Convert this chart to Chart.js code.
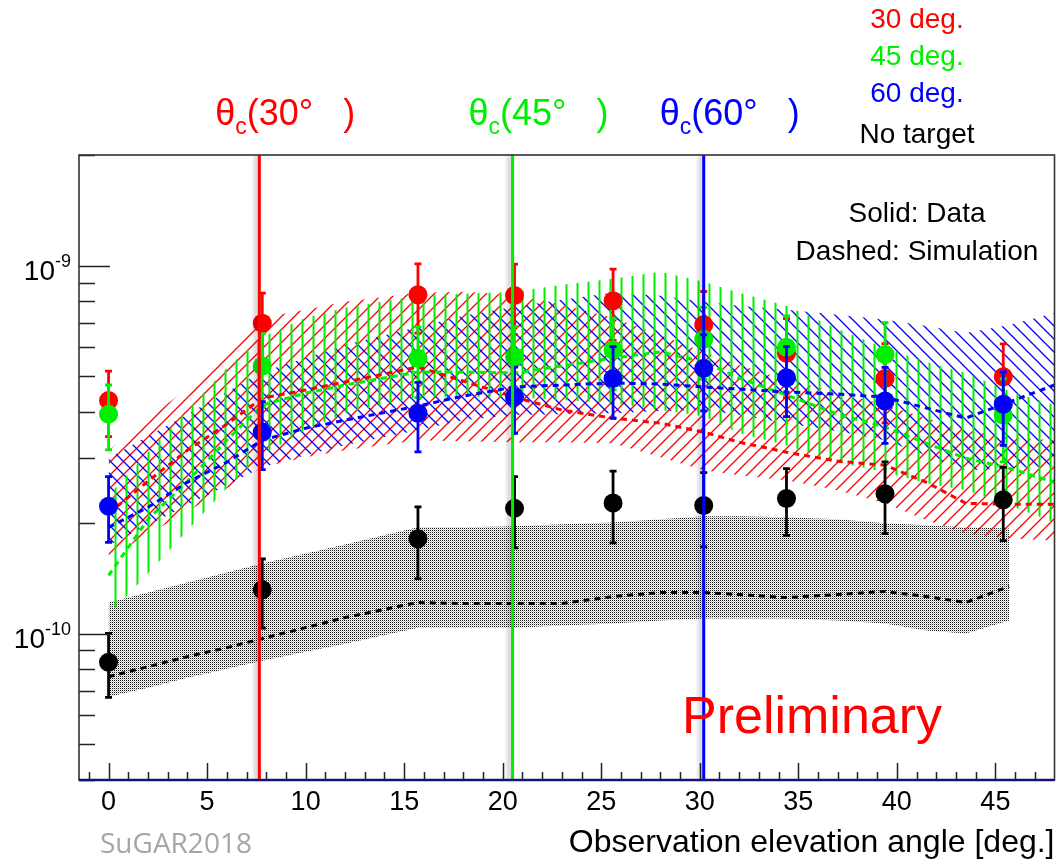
<!DOCTYPE html>
<html><head><meta charset="utf-8">
<script src="https://cdn.jsdelivr.net/npm/chart.js@4.4.1/dist/chart.umd.min.js"></script>
<style>html,body{margin:0;padding:0;background:#fff;overflow:hidden}</style>
</head><body>
<canvas id="c" width="1064" height="859" style="display:block;width:1064px;height:859px"></canvas>
<script>
// ---------- data points (measured) ----------
const dataX = [0, 7.8, 15.7, 20.6, 25.6, 30.2, 34.4, 39.4, 45.4];
const red30 = [4.30e-10, 6.98e-10, 8.34e-10, 8.30e-10, 8.03e-10, 6.91e-10, 5.78e-10, 4.94e-10, 4.99e-10];
const red30Err = [0.87e-10, 1.45e-10, 1.78e-10, 1.80e-10, 1.76e-10, 1.60e-10, 1.40e-10, 1.20e-10, 1.14e-10];
const green45 = [3.95e-10, 5.34e-10, 5.60e-10, 5.66e-10, 5.90e-10, 6.31e-10, 6.00e-10, 5.74e-10, 3.93e-10];
const green45Err = [0.79e-10, 1.20e-10, 1.22e-10, 1.17e-10, 1.30e-10, 1.40e-10, 1.31e-10, 1.26e-10, 1.00e-10];
const blue60 = [2.22e-10, 3.53e-10, 3.97e-10, 4.40e-10, 4.94e-10, 5.26e-10, 4.96e-10, 4.29e-10, 4.20e-10];
const blue60Err = [0.45e-10, 0.74e-10, 0.85e-10, 0.90e-10, 1.09e-10, 1.23e-10, 1.07e-10, 1.00e-10, 0.95e-10];
const noTarget = [0.836e-10, 1.315e-10, 1.81e-10, 2.19e-10, 2.265e-10, 2.23e-10, 2.33e-10, 2.40e-10, 2.31e-10];
const noTargetErr = [0.165e-10, 0.28e-10, 0.40e-10, 0.48e-10, 0.50e-10, 0.51e-10, 0.48e-10, 0.53e-10, 0.52e-10];

// ---------- simulation curves and bands ----------
const simX = [0, 2, 4, 6, 7.8, 10, 12, 15.7, 18, 20.6, 23, 25.6, 28, 30.2, 32, 34.4, 37, 39.4, 41.5, 43.5, 45.7, 48];
const redSim   = [2.123e-10, 2.595e-10, 3.151e-10, 3.710e-10, 4.368e-10, 4.593e-10, 4.830e-10, 5.306e-10, 4.860e-10, 4.395e-10, 4.052e-10, 3.853e-10, 3.733e-10, 3.528e-10, 3.314e-10, 3.112e-10, 2.941e-10, 2.870e-10, 2.578e-10, 2.261e-10, 2.247e-10, 2.247e-10];
const redSimUp = [3.151e-10, 3.828e-10, 4.651e-10, 5.903e-10, 7.216e-10, 7.587e-10, 7.977e-10, 8.442e-10, 8.495e-10, 8.336e-10, 7.828e-10, 7.216e-10, 6.486e-10, 5.830e-10, 5.373e-10, 4.891e-10, 4.536e-10, 4.181e-10, 3.853e-10, 3.573e-10, 3.419e-10, 3.356e-10];
const redSimLo = [1.611e-10, 1.861e-10, 2.150e-10, 2.484e-10, 2.834e-10, 3.016e-10, 3.151e-10, 3.356e-10, 3.335e-10, 3.314e-10, 3.314e-10, 3.293e-10, 3.016e-10, 2.781e-10, 2.695e-10, 2.611e-10, 2.453e-10, 2.261e-10, 2.032e-10, 1.873e-10, 1.815e-10, 1.792e-10];
const greenSim   = [1.439e-10, 2.045e-10, 2.595e-10, 3.356e-10, 4.181e-10, 4.507e-10, 4.740e-10, 5.142e-10, 5.142e-10, 5.110e-10, 5.340e-10, 5.615e-10, 5.830e-10, 5.476e-10, 4.952e-10, 4.451e-10, 3.950e-10, 3.641e-10, 3.293e-10, 2.997e-10, 2.816e-10, 2.578e-10];
const greenSimUp = [2.377e-10, 3.112e-10, 4.052e-10, 5.273e-10, 6.405e-10, 7.216e-10, 7.682e-10, 8.284e-10, 8.389e-10, 8.495e-10, 8.876e-10, 9.217e-10, 9.630e-10, 9.045e-10, 8.442e-10, 7.780e-10, 6.735e-10, 5.978e-10, 5.476e-10, 5.110e-10, 4.564e-10, 4.181e-10];
const greenSimLo = [1.120e-10, 1.457e-10, 1.908e-10, 2.484e-10, 3.055e-10, 3.573e-10, 3.975e-10, 4.395e-10, 4.395e-10, 4.395e-10, 4.313e-10, 4.233e-10, 4.052e-10, 3.901e-10, 3.506e-10, 3.252e-10, 2.923e-10, 2.746e-10, 2.562e-10, 2.453e-10, 2.233e-10, 2.006e-10];
const blueSim   = [1.945e-10, 2.205e-10, 2.578e-10, 2.923e-10, 3.356e-10, 3.618e-10, 3.804e-10, 4.155e-10, 4.423e-10, 4.681e-10, 4.740e-10, 4.800e-10, 4.770e-10, 4.681e-10, 4.622e-10, 4.536e-10, 4.479e-10, 4.395e-10, 4.103e-10, 3.853e-10, 4.260e-10, 4.740e-10];
const blueSimUp = [2.997e-10, 3.441e-10, 3.950e-10, 4.536e-10, 5.142e-10, 5.615e-10, 6.091e-10, 6.820e-10, 7.307e-10, 7.731e-10, 8.078e-10, 8.442e-10, 8.284e-10, 7.977e-10, 7.780e-10, 7.587e-10, 7.353e-10, 7.126e-10, 6.863e-10, 6.568e-10, 6.906e-10, 7.445e-10];
const blueSimLo = [1.737e-10, 1.969e-10, 2.233e-10, 2.532e-10, 2.834e-10, 3.055e-10, 3.252e-10, 3.573e-10, 3.804e-10, 3.926e-10, 3.950e-10, 3.975e-10, 4.026e-10, 4.052e-10, 3.926e-10, 3.733e-10, 3.550e-10, 3.356e-10, 3.055e-10, 2.781e-10, 2.816e-10, 2.852e-10];
const noTargetSim   = [0.7636e-10, 0.8129e-10, 0.8658e-10, 0.9160e-10, 0.9691e-10, 1.038e-10, 1.106e-10, 1.215e-10, 1.207e-10, 1.207e-10, 1.207e-10, 1.261e-10, 1.293e-10, 1.293e-10, 1.277e-10, 1.253e-10, 1.277e-10, 1.302e-10, 1.261e-10, 1.215e-10, 1.343e-10];
const noTargetSimUp = [1.215e-10, 1.293e-10, 1.377e-10, 1.466e-10, 1.551e-10, 1.652e-10, 1.748e-10, 1.945e-10, 1.945e-10, 1.957e-10, 1.982e-10, 2.006e-10, 2.045e-10, 2.084e-10, 2.084e-10, 2.071e-10, 2.045e-10, 1.994e-10, 1.969e-10, 1.945e-10, 1.932e-10];
const noTargetSimLo = [0.6735e-10, 0.7126e-10, 0.7588e-10, 0.8028e-10, 0.8440e-10, 0.8932e-10, 0.9392e-10, 1.038e-10, 1.038e-10, 1.038e-10, 1.052e-10, 1.065e-10, 1.085e-10, 1.099e-10, 1.099e-10, 1.099e-10, 1.085e-10, 1.065e-10, 1.019e-10, 1.000e-10, 1.085e-10];

// ---------- axes / annotations ----------
const xTickValues = [0, 5, 10, 15, 20, 25, 30, 35, 40, 45];
const xMinorTicks = [-1,0,1,2,3,4,5,6,7,8,9,10,11,12,13,14,15,16,17,18,19,20,21,22,23,24,25,26,27,28,29,30,31,32,33,34,35,36,37,38,39,40,41,42,43,44,45,46,47];
const yTickValues = [1e-10, 1e-9];
const yTickBase = ['10', '10'];
const yTickExp = ['-10', '-9'];
const yMinorTicks = [4e-11,5e-11,6e-11,7e-11,8e-11,9e-11,1e-10,2e-10,3e-10,4e-10,5e-10,6e-10,7e-10,8e-10,9e-10,1e-9,2e-9];
const thetaX = [7.65, 20.5, 30.2];
const thetaAngles = ['30', '45', '60'];
const legendLabels = ['30 deg.', '45 deg.', '60 deg.', 'No target'];
const xTitle = 'Observation elevation angle [deg.]';

const RED = '#ff0000', GREEN = '#00ee00', BLUE = '#0000ff', BLACK = '#000000';
const FONT = "'Liberation Sans', Arial, Helvetica, sans-serif";

const canvas = document.getElementById('c');
const ctx = canvas.getContext('2d');

function hatch(color, kind, size, lw) {
  const c = document.createElement('canvas');
  c.width = size; c.height = size;
  const g = c.getContext('2d');
  g.strokeStyle = color; g.lineWidth = lw;
  g.beginPath();
  if (kind === '/') {
    g.moveTo(0, size); g.lineTo(size, 0);
    g.moveTo(-2, 2); g.lineTo(2, -2);
    g.moveTo(size - 2, size + 2); g.lineTo(size + 2, size - 2);
  } else if (kind === '\\') {
    g.moveTo(0, 0); g.lineTo(size, size);
    g.moveTo(size - 2, -2); g.lineTo(size + 2, 2);
    g.moveTo(-2, size - 2); g.lineTo(2, size + 2);
  } else {
    g.moveTo(size / 2, 0); g.lineTo(size / 2, size);
  }
  g.stroke();
  return ctx.createPattern(c, 'repeat');
}
function dots() {
  const c = document.createElement('canvas');
  c.width = 2; c.height = 2;
  const g = c.getContext('2d');
  g.fillStyle = '#fff'; g.fillRect(0, 0, 2, 2);
  g.fillStyle = '#111'; g.fillRect(0, 0, 1, 1);
  g.fillStyle = '#c4c4c4'; g.fillRect(1, 1, 1, 1);
  return ctx.createPattern(c, 'repeat');
}

const pts = (xs, ys) => ys.map((y, i) => ({x: xs[i], y}));

function band(up, lo, pattern, order) {
  return [
    {data: pts(simX, up), borderWidth: 0, borderColor: 'rgba(0,0,0,0)', pointRadius: 0, fill: '+1', backgroundColor: pattern, order, tension: 0},
    {data: pts(simX, lo), borderWidth: 0, borderColor: 'rgba(0,0,0,0)', pointRadius: 0, fill: false, order, tension: 0}
  ];
}
function simLine(vals, color, order) {
  return {data: pts(simX, vals), borderColor: color, borderWidth: 3, borderDash: [6, 5], pointRadius: 0, fill: false, order, tension: 0};
}
function dataSet(vals, errs, color, order) {
  return {data: pts(dataX, vals), errors: errs, errColor: color, showLine: false, pointRadius: 9.5, pointHoverRadius: 9.5,
          pointBackgroundColor: color, pointBorderColor: color, pointBorderWidth: 0, backgroundColor: color, borderColor: color, order};
}

const datasets = [
  ...band(noTargetSimUp, noTargetSimLo, dots(), 100),
  ...band(redSimUp, redSimLo, hatch(RED, '/', 13, 1.3), 90),
  ...band(blueSimUp, blueSimLo, hatch(BLUE, '\\', 13, 1.3), 80),
  ...band(greenSimUp, greenSimLo, hatch(GREEN, '|', 11, 2), 70),
  simLine(noTargetSim, BLACK, 60),
  simLine(redSim, RED, 59),
  simLine(greenSim, GREEN, 58),
  simLine(blueSim, BLUE, 57),
  dataSet(red30, red30Err, RED, 40),
  dataSet(green45, green45Err, GREEN, 30),
  dataSet(blue60, blue60Err, BLUE, 20),
  dataSet(noTarget, noTargetErr, BLACK, 10)
];

const errorBars = {
  id: 'errorBars',
  beforeDatasetDraw(chart, args) {
    const ds = chart.data.datasets[args.index];
    if (!ds.errors) return;
    const c = chart.ctx, xs = chart.scales.x, ys = chart.scales.y, a = chart.chartArea;
    c.save();
    c.beginPath(); c.rect(a.left, a.top, a.right - a.left, a.bottom - a.top); c.clip();
    c.strokeStyle = ds.errColor; c.lineWidth = 2.8;
    ds.data.forEach((p, i) => {
      const e = ds.errors[i];
      const px = xs.getPixelForValue(p.x);
      const y1 = ys.getPixelForValue(p.y + e), y2 = ys.getPixelForValue(p.y - e);
      c.beginPath();
      c.moveTo(px, y1); c.lineTo(px, y2);
      c.moveTo(px - 3.5, y1); c.lineTo(px + 3.5, y1);
      c.moveTo(px - 3.5, y2); c.lineTo(px + 3.5, y2);
      c.stroke();
    });
    c.restore();
  }
};

const decorations = {
  id: 'decorations',
  afterDatasetsDraw(chart) {
    const c = chart.ctx, xs = chart.scales.x, ys = chart.scales.y, a = chart.chartArea;
    c.save();
    // ticks inside the frame
    c.strokeStyle = '#222'; c.lineWidth = 1.5;
    c.beginPath();
    yMinorTicks.forEach(v => {
      const py = Math.round(ys.getPixelForValue(v)) + 0.5;
      const major = yTickValues.includes(v);
      c.moveTo(a.left, py); c.lineTo(a.left + (major ? 31 : 16), py);
    });
    xMinorTicks.forEach(v => {
      const px = Math.round(xs.getPixelForValue(v)) + 0.5;
      const major = xTickValues.includes(v);
      c.moveTo(px, a.bottom); c.lineTo(px, a.bottom - (major ? 17 : 8));
    });
    c.stroke();
    // vertical theta_c lines
    const cols = [RED, GREEN, BLUE];
    thetaX.forEach((tx, i) => {
      const px = xs.getPixelForValue(tx);
      c.save();
      c.shadowColor = 'rgba(0,0,0,0.28)'; c.shadowBlur = 4; c.shadowOffsetX = -3;
      c.strokeStyle = cols[i]; c.lineWidth = 3;
      c.beginPath(); c.moveTo(px, a.top); c.lineTo(px, a.bottom); c.stroke();
      c.restore();
    });
    // frame
    c.strokeStyle = '#333'; c.lineWidth = 1.6;
    c.strokeRect(a.left, a.top, a.right - a.left, a.bottom - a.top);
    c.strokeStyle = '#14146e'; c.lineWidth = 2.4;
    c.beginPath(); c.moveTo(a.left, a.bottom); c.lineTo(a.right, a.bottom); c.stroke();
    c.restore();
  },
  afterDraw(chart) {
    const c = chart.ctx, xs = chart.scales.x, ys = chart.scales.y;
    c.save();
    // y axis labels 10^n
    c.fillStyle = BLACK; c.textBaseline = 'alphabetic';
    yTickValues.forEach((v, i) => {
      const py = ys.getPixelForValue(v);
      const xEnd = 71;
      c.font = '18px ' + FONT; c.textAlign = 'right';
      const we = c.measureText(yTickExp[i]).width;
      c.fillText(yTickExp[i], xEnd, py + 1);
      c.font = '28px ' + FONT;
      c.fillText(yTickBase[i], xEnd - we, py + 14);
    });
    // theta_c labels
    const cols = [RED, GREEN, BLUE];
    thetaX.forEach((tx, i) => {
      let x = xs.getPixelForValue(tx) - 44;
      c.fillStyle = cols[i];
      c.textAlign = 'left'; c.textBaseline = 'alphabetic';
      c.font = '36px ' + FONT;
      c.fillText('\u03B8', x, 125); x += c.measureText('\u03B8').width;
      c.font = '23px ' + FONT;
      c.fillText('c', x, 134); x += c.measureText('c').width;
      c.font = '36px ' + FONT;
      c.fillText('(' + thetaAngles[i] + '\u00B0   )', x, 125);
    });
    // legend text
    c.textAlign = 'center';
    c.font = '28px ' + FONT;
    const lc = [RED, GREEN, BLUE, BLACK], ly = [28, 65, 102, 143];
    legendLabels.forEach((t, i) => { c.fillStyle = lc[i]; c.fillText(t, 917, ly[i]); });
    c.fillStyle = BLACK;
    c.fillText('Solid: Data', 917, 222);
    c.fillText('Dashed: Simulation', 917, 260);
    // Preliminary
    c.textAlign = 'left';
    c.fillStyle = RED; c.font = '52px ' + FONT;
    c.fillText('Preliminary', 682, 733);
    // SuGAR2018
    c.fillStyle = '#a6a6a6'; c.font = "28px 'Open Sans', sans-serif";
    c.fillText('SuGAR2018', 100, 853);
    c.restore();
  }
};

new Chart(ctx, {
  type: 'line',
  data: {datasets},
  options: {
    responsive: false, animation: false, devicePixelRatio: 1, events: [],
    layout: {padding: {top: 155, right: 8, left: 0, bottom: 0}},
    plugins: {legend: {display: false}, tooltip: {enabled: false}, filler: {propagate: false}},
    scales: {
      x: {
        type: 'linear', min: -1.5, max: 48,
        afterBuildTicks: s => { s.ticks = xTickValues.map(v => ({value: v})); },
        afterFit: s => { s.height = 79; },
        grid: {display: false, drawTicks: false}, border: {display: false},
        ticks: {font: {family: FONT, size: 27}, color: '#000', padding: 6, autoSkip: false, maxRotation: 0, callback: v => String(v)},
        title: {display: true, text: xTitle, align: 'end', color: '#000', font: {family: FONT, size: 32, lineHeight: 1.0}, padding: {top: 0, bottom: 0}}
      },
      y: {
        type: 'logarithmic', min: 4e-11, max: 2e-9,
        afterBuildTicks: s => { s.ticks = yTickValues.map(v => ({value: v})); },
        afterFit: s => { s.width = 79; },
        grid: {display: false, drawTicks: false}, border: {display: false},
        ticks: {display: false}
      }
    }
  },
  plugins: [errorBars, decorations]
});
</script>
</body></html>
